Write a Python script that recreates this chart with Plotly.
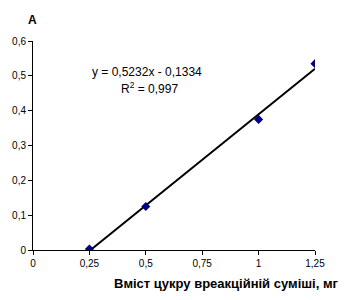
import plotly.graph_objects as go

x_vals = [0.25, 0.5, 1.0, 1.25]
y_vals = [0.003, 0.125, 0.375, 0.535]
slope = 0.5232
intercept = -0.1334
trend_x = [0.255, 1.25]
x_ticks = [0, 0.25, 0.5, 0.75, 1, 1.25]
x_tick_text = ["0", "0,25", "0,5", "0,75", "1", "1,25"]
y_ticks = [0, 0.1, 0.2, 0.3, 0.4, 0.5, 0.6]
y_tick_text = ["0", "0,1", "0,2", "0,3", "0,4", "0,5", "0,6"]

trend_y = [slope * v + intercept for v in trend_x]

W, H = 347, 300
ML, MR, MT, MB = 33, 32, 41, 50
pw = W - ML - MR
ph = H - MT - MB


def px(xp):
    return (xp - ML) / pw


def py(yp):
    return (H - MB - yp) / ph


fig = go.Figure()
fig.add_trace(go.Scatter(x=trend_x, y=trend_y, mode="lines",
                         line=dict(color="black", width=2), hoverinfo="skip"))
fig.add_trace(go.Scatter(x=x_vals, y=y_vals, mode="markers",
                         marker=dict(symbol="diamond", color="#000080", size=7)))

fig.update_layout(
    width=W, height=H,
    margin=dict(l=ML, r=MR, t=MT, b=MB),
    paper_bgcolor="white", plot_bgcolor="white",
    showlegend=False,
    font=dict(family="Arial, Liberation Sans, sans-serif", size=10, color="black"),
    xaxis=dict(range=[0, 1.25], tickvals=x_ticks, ticktext=x_tick_text,
               showgrid=False, zeroline=False, showline=True, linecolor="black",
               linewidth=1, ticks="outside", ticklen=4, tickcolor="black",
               tickfont=dict(size=10)),
    yaxis=dict(range=[0, 0.6], tickvals=y_ticks, ticktext=y_tick_text,
               showgrid=False, zeroline=False, showline=True, linecolor="black",
               linewidth=1, ticks="outside", ticklen=4, tickcolor="black",
               tickfont=dict(size=10)),
    annotations=[
        dict(text="y = 0,5232x - 0,1334", x=px(147), y=py(72), xref="paper", yref="paper",
             showarrow=False, xanchor="center", yanchor="middle", font=dict(size=12)),
        dict(text="R<sup>2</sup> = 0,997", x=px(149), y=py(88), xref="paper", yref="paper",
             showarrow=False, xanchor="center", yanchor="middle", font=dict(size=12)),
        dict(text="<b>Вміст цукру вреакційній суміші, мг</b>", x=px(341), y=py(283),
             xref="paper", yref="paper", showarrow=False, xanchor="right", yanchor="middle",
             font=dict(size=13)),
        dict(text="<b>А</b>", x=px(32), y=py(20), xref="paper", yref="paper",
             showarrow=False, xanchor="center", yanchor="middle", font=dict(size=12)),
    ],
)

fig.write_html("out.html")
